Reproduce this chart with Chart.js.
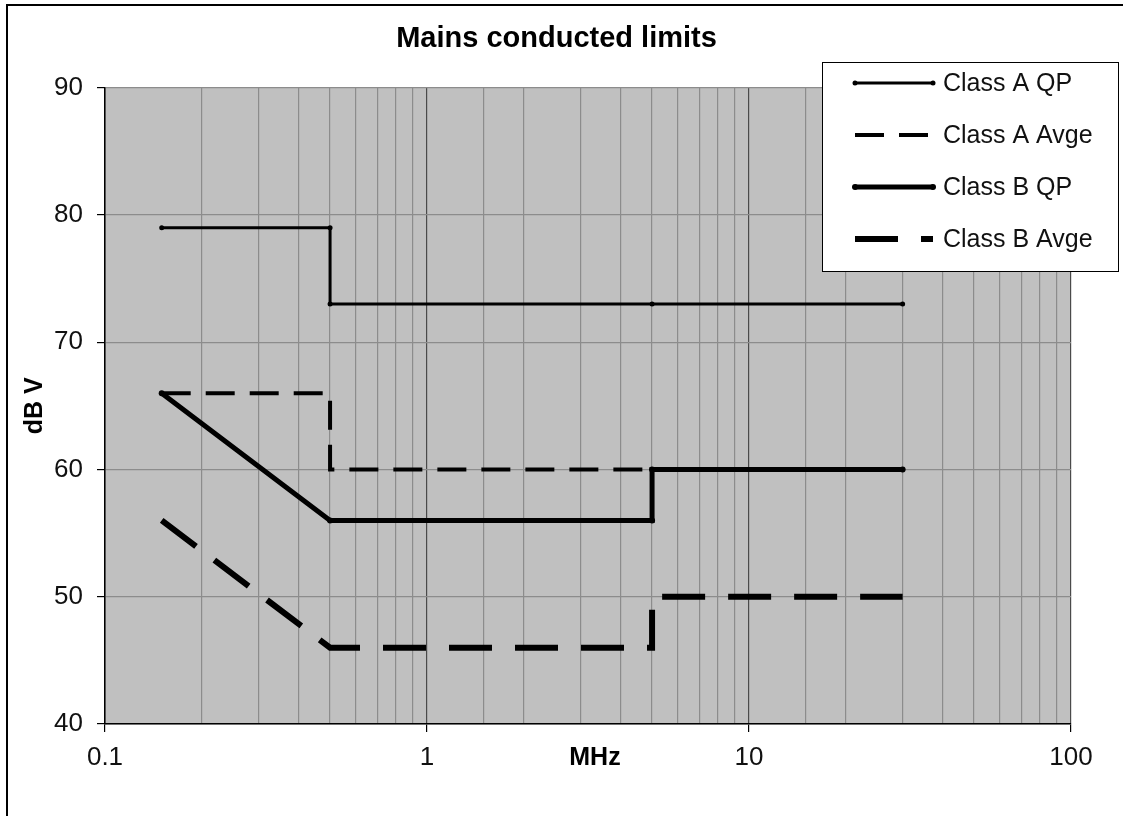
<!DOCTYPE html>
<html>
<head>
<meta charset="utf-8">
<script src="https://cdn.jsdelivr.net/npm/chart.js@4.4.1/dist/chart.umd.min.js"></script>
<style>
html,body{margin:0;padding:0;background:#fff;}
#wrap{position:relative;width:1123px;height:816px;}
</style>
</head>
<body>
<div id="wrap"><canvas id="c" width="1123" height="816"></canvas></div>
<script>
// ---- Data ----
const freqAQP   = [0.15, 0.5, 0.5, 5, 30];
const classAQP  = [79, 79, 73, 73, 73];
const freqAAv   = [0.15, 0.5, 0.5, 5, 30];
const classAAvge= [66, 66, 60, 60, 60];
const freqBQP   = [0.15, 0.5, 5, 5, 30];
const classBQP  = [66, 56, 56, 60, 60];
const freqBAv   = [0.15, 0.5, 5, 5, 30];
const classBAvge= [56, 46, 46, 50, 50];
const seriesNames = ['Class A QP', 'Class A Avge', 'Class B QP', 'Class B Avge'];
const xTickLabels = ['0.1', '1', '10', '100'];
const yTicks = [40, 50, 60, 70, 80, 90];

const FONT = "'Liberation Sans', Arial, Helvetica, sans-serif";
const pts = (xs, ys) => xs.map((x, i) => ({x: x, y: ys[i]}));
const isDecade = v => Math.abs(Math.log10(v) - Math.round(Math.log10(v))) < 1e-6;

const PAD_LEFT = 0, PAD_RIGHT = 10, PLOT_LEFT = 105, PLOT_RIGHT = 1071, PLOT_BOTTOM = 724;

const bgPlugin = {
  id: 'bg',
  beforeDraw(chart) {
    const ctx = chart.ctx, a = chart.chartArea;
    ctx.save();
    ctx.fillStyle = '#fff';
    ctx.fillRect(0, 0, chart.width, chart.height);
    ctx.fillStyle = '#c0c0c0';
    ctx.fillRect(a.left, a.top, a.right - a.left, a.bottom - a.top);
    ctx.restore();
  },
  afterDraw(chart) {
    const ctx = chart.ctx;
    ctx.save();
    // outer frame
    ctx.strokeStyle = '#000';
    ctx.lineWidth = 2;
    ctx.strokeRect(7, 5, 1130, 830);
    // legend box
    const bx = 822, by = 62, bw = 296, bh = 209;
    ctx.fillStyle = '#fff';
    ctx.fillRect(bx, by, bw, bh);
    ctx.lineWidth = 1;
    ctx.strokeStyle = '#000';
    ctx.strokeRect(bx + 0.5, by + 0.5, bw, bh);
    const rows = [83, 135, 187, 239];
    chart.data.datasets.forEach((ds, i) => {
      const y = rows[i];
      ctx.strokeStyle = '#000';
      ctx.lineWidth = ds.borderWidth;
      ctx.setLineDash(ds.borderDash || []);
      ctx.beginPath();
      ctx.moveTo(855, y);
      ctx.lineTo(933, y);
      ctx.stroke();
      ctx.setLineDash([]);
      if (ds.pointRadius > 0) {
        ctx.fillStyle = '#000';
        [855, 933].forEach(px => { ctx.beginPath(); ctx.arc(px, y, ds.pointRadius, 0, Math.PI * 2); ctx.fill(); });
      }
      ctx.fillStyle = '#111';
      ctx.font = '25px ' + FONT;
      ctx.textBaseline = 'middle';
      ctx.textAlign = 'left';
      ctx.fillText(ds.label, 943, y + 1);
    });
    ctx.restore();
  }
};

new Chart(document.getElementById('c'), {
  type: 'line',
  data: {
    datasets: [
      {label: seriesNames[0], data: pts(freqAQP, classAQP), borderColor: '#000', backgroundColor: '#000', borderWidth: 3, pointRadius: 2.5, pointBorderWidth: 0, pointBackgroundColor: '#000', tension: 0, fill: false},
      {label: seriesNames[1], data: pts(freqAAv, classAAvge), borderColor: '#000', backgroundColor: '#000', borderWidth: 4, borderDash: [29, 15], pointRadius: 0, tension: 0, fill: false},
      {label: seriesNames[2], data: pts(freqBQP, classBQP), borderColor: '#000', backgroundColor: '#000', borderWidth: 5, pointRadius: 3, pointBorderWidth: 0, pointBackgroundColor: '#000', tension: 0, fill: false},
      {label: seriesNames[3], data: pts(freqBAv, classBAvge), borderColor: '#000', backgroundColor: '#000', borderWidth: 6, borderDash: [43, 23], pointRadius: 0, tension: 0, fill: false}
    ]
  },
  options: {
    responsive: false,
    animation: false,
    devicePixelRatio: 1,
    layout: {padding: {left: PAD_LEFT, right: PAD_RIGHT, top: 0, bottom: 0}},
    plugins: {
      legend: {display: false},
      tooltip: {enabled: false},
      title: {
        display: true,
        text: 'Mains conducted limits',
        color: '#000',
        font: {family: FONT, size: 29, weight: 'bold', lineHeight: 1.2},
        padding: {top: 22, bottom: 31}
      }
    },
    scales: {
      x: {
        type: 'logarithmic',
        min: 0.1, max: 100,
        afterFit(scale) { scale.height = 816 - PLOT_BOTTOM; },
        border: {display: true, color: '#000', width: 1.5},
        grid: {
          color: c => (c.tick && isDecade(c.tick.value)) ? '#4a4a4a' : '#8c8c8c',
          tickColor: c => (c.tick && isDecade(c.tick.value)) ? '#000' : 'rgba(0,0,0,0)',
          lineWidth: 1.2,
          tickLength: 8,
          drawTicks: true
        },
        ticks: {
          autoSkip: false, maxRotation: 0, minRotation: 0,
          padding: 10,
          color: '#111',
          font: {family: FONT, size: 26},
          callback: (v) => isDecade(v) ? xTickLabels[Math.round(Math.log10(v)) + 1] : ''
        },
        title: {
          display: true, text: '  MHz', color: '#000',
          font: {family: FONT, size: 25, weight: 'bold', lineHeight: 1.2},
          padding: {top: 0, bottom: 43}
        }
      },
      y: {
        type: 'linear',
        min: 40, max: 90,
        afterFit(scale) { scale.width = PLOT_LEFT - PAD_LEFT; },
        afterBuildTicks(scale) { scale.ticks = yTicks.map(v => ({value: v})); },
        border: {display: true, color: '#000', width: 1.5},
        grid: {color: '#8c8c8c', tickColor: '#000', lineWidth: 1.2, tickLength: 8},
        ticks: {
          padding: 14, color: '#111',
          font: {family: FONT, size: 26}
        },
        title: {
          display: true, text: 'dB V', color: '#000',
          font: {family: FONT, size: 25, weight: 'bold', lineHeight: 1.2},
          padding: {top: 20, bottom: 0}
        }
      },
      yRight: {
        type: 'linear',
        position: 'right',
        min: 40, max: 90,
        display: true,
        afterFit(scale) { scale.width = 1123 - PAD_RIGHT - PLOT_RIGHT; },
        border: {display: false},
        grid: {display: false, drawTicks: false},
        ticks: {display: false},
        title: {display: false}
      }
    }
  },
  plugins: [bgPlugin]
});
</script>
</body>
</html>
